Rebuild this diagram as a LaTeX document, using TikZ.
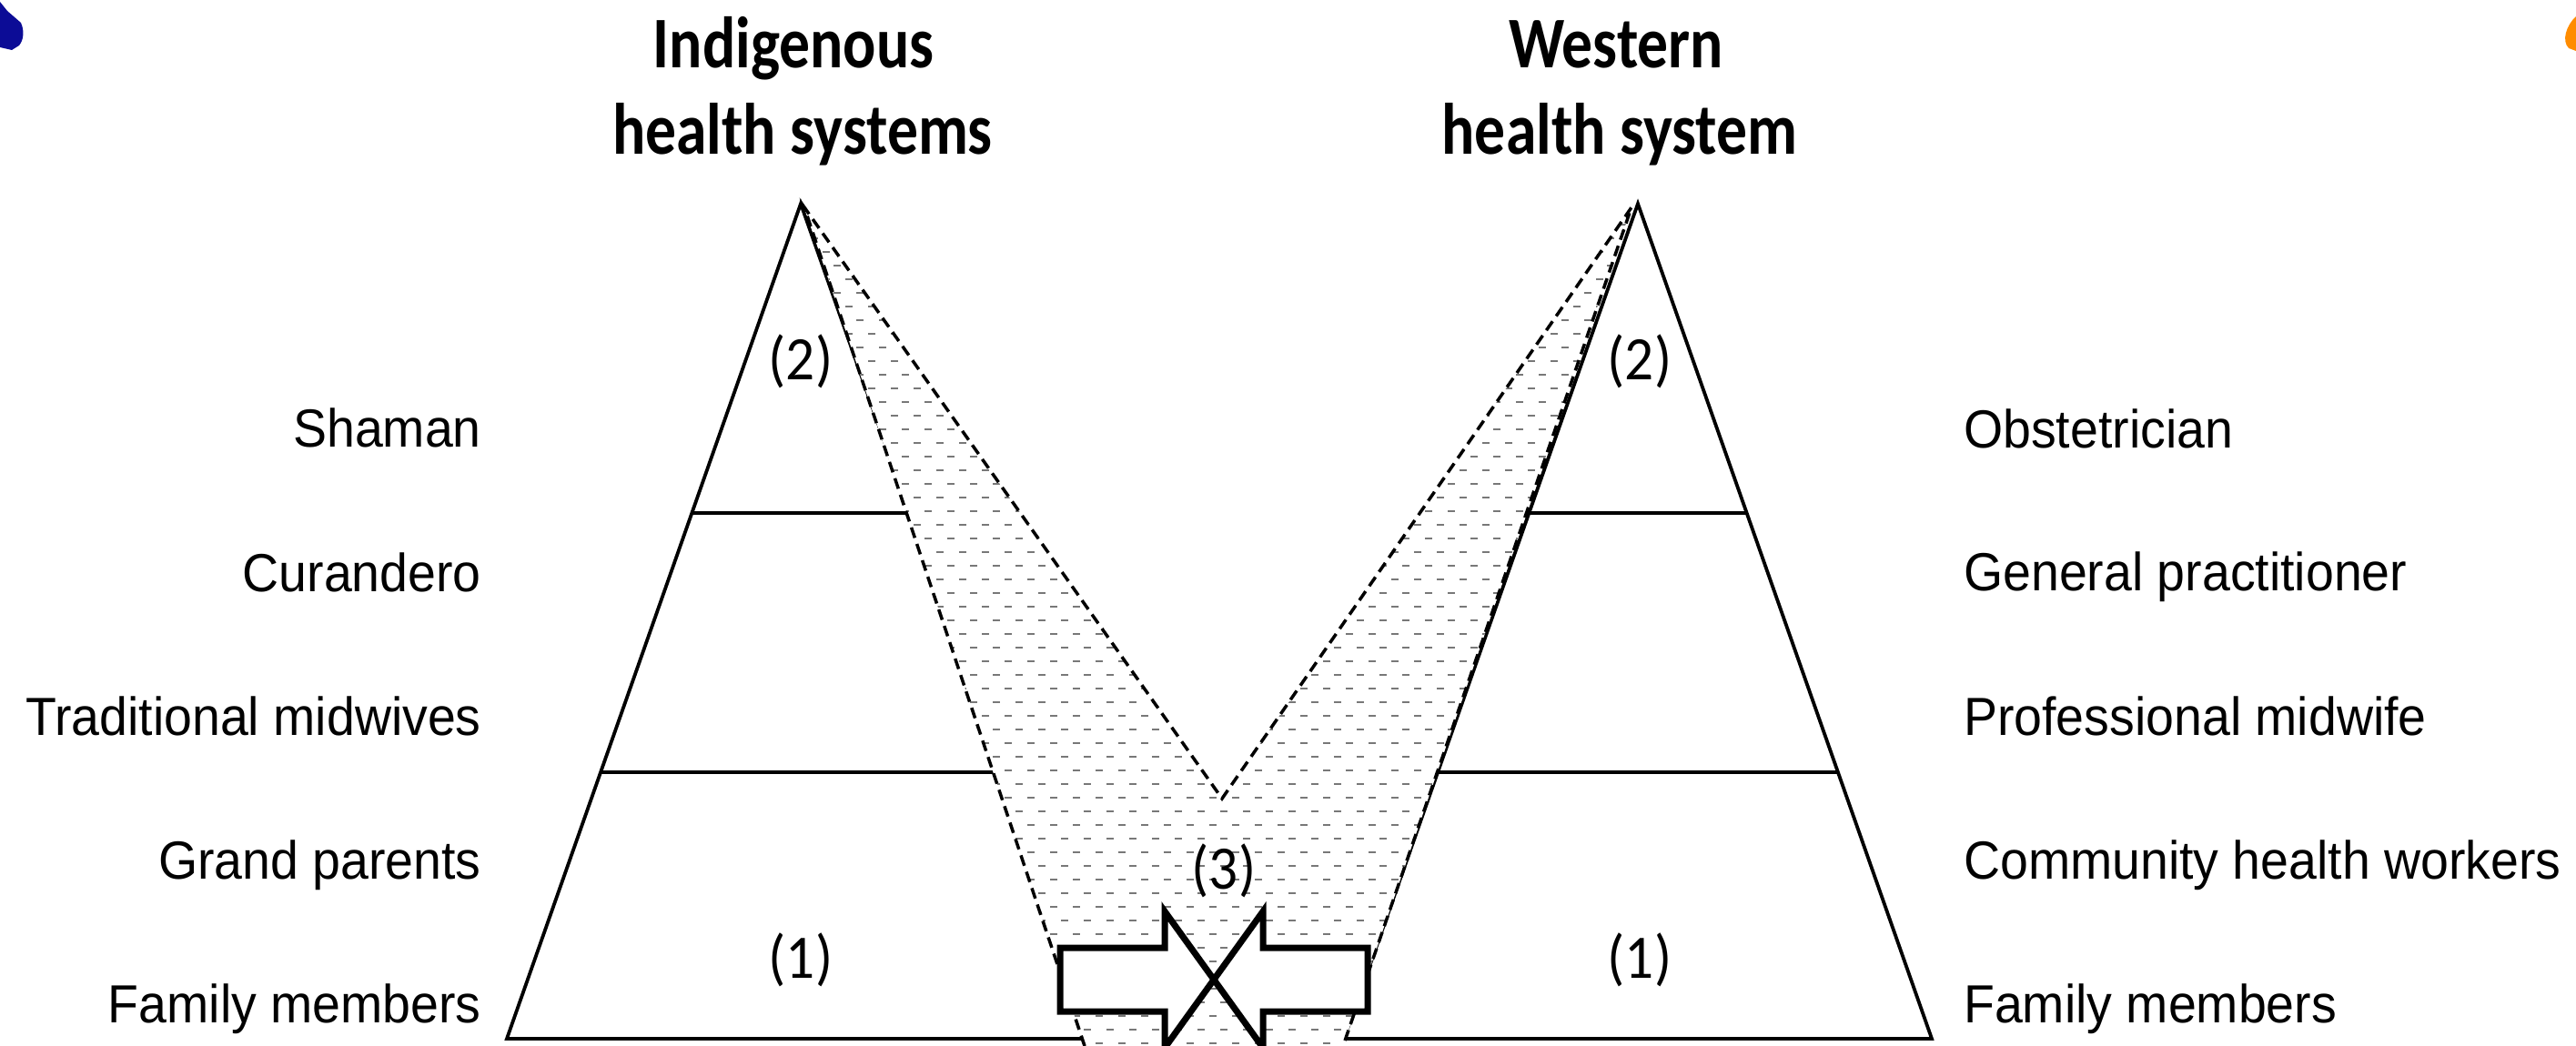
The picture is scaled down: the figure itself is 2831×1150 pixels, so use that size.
\documentclass[tikz,border=0pt]{standalone}
\usepackage{fontspec}
\newfontfamily\lblfont[FakeStretch=0.94]{Liberation Sans}
\newfontfamily\numfont[FakeStretch=0.93]{Carlito}
\newfontfamily\ttlfont[FakeStretch=0.845]{Carlito}
\definecolor{blobblue}{RGB}{12,12,150}
\definecolor{bloborange}{RGB}{255,140,0}
\definecolor{dashgray}{RGB}{120,120,120}
\tikzset{
  lbl/.style={inner sep=0pt, font=\lblfont\fontsize{59pt}{63pt}\selectfont},
  lblL/.style={lbl, anchor=base east},
  lblR/.style={lbl, anchor=base west},
  ttl/.style={inner sep=0pt, anchor=base, font=\ttlfont\bfseries\fontsize{80pt}{84pt}\selectfont},
  num/.style={inner sep=0pt, font=\numfont\fontsize{68pt}{72pt}\selectfont},
  pyr/.style={line width=3.8pt, line join=miter},
  level/.style={line width=3.8pt},
  bandedge/.style={line width=3.5pt, dash pattern=on 12pt off 7pt, line join=miter},
  fillrow/.style={dashgray, line width=2.8pt, dash pattern=on 8pt off 17pt},
  blockarrow/.style={line width=7pt, fill=white, line join=miter, miter limit=10}
}
\begin{document}
\begin{tikzpicture}[x=1pt, y=-1pt]
\useasboundingbox (0,0) rectangle (2831,1150);
% corner fragments
\fill[blobblue] (0,2) -- (8,12) -- (23,25) .. controls (27,34) and (26,44) .. (21,50) -- (13,55) -- (0,52) -- cycle;
\fill[bloborange] (2831,18) .. controls (2820,28) and (2815,45) .. (2823,53) -- (2831,56) -- cycle;

% pyramids
\coordinate (LT) at (880,224);
\coordinate (LBL) at (557,1142);
\coordinate (LBR) at (1203,1142);
\coordinate (RT) at (1800,224);
\coordinate (RBL) at (1477,1142);
\coordinate (RBR) at (2123,1142);
\draw[pyr] (LBL) -- (LT) -- (LBR) -- cycle;
\draw[pyr] (RBL) -- (RT) -- (RBR) -- cycle;
\draw[level] (760.4,564) -- (999.6,564);
\draw[level] (660.1,849) -- (1099.9,849);
\draw[level] (1680.4,564) -- (1919.6,564);
\draw[level] (1580.1,849) -- (2019.9,849);

% shaded band
\coordinate (A1) at (884,228);
\coordinate (V) at (1343,878);
\coordinate (A2) at (1793,228);
\coordinate (Rb) at (1476,1150);
\coordinate (Lb) at (1192,1150);
\begin{scope}
\clip (A1) -- (V) -- (A2) -- (Rb) -- (Lb) -- cycle;
\fill[white] (860,200) rectangle (1820,1160);
\foreach \i in {0,...,62} {
  \pgfmathsetmacro\yy{232+15*\i}
  \pgfmathsetmacro\ph{mod(\i,2)*12}
  \draw[fillrow, dash phase=\ph pt] (866,\yy) -- (1820,\yy);
}
\end{scope}
\draw[bandedge] (Lb) -- (A1) -- (V) -- (A2) -- (Rb);

% block arrows
\draw[blockarrow] (1165,1042) -- (1280,1042) -- (1280,1002) -- (1334,1077) -- (1280,1152) -- (1280,1112) -- (1165,1112) -- cycle;
\draw[blockarrow] (1503,1042) -- (1388,1042) -- (1388,1002) -- (1334,1077) -- (1388,1152) -- (1388,1112) -- (1503,1112) -- cycle;

% titles
\node[ttl] (t1a) at (872,75) {Indigenous};
\node[ttl] (t1b) at (882,170) {health systems};
\node[ttl] (t2a) at (1776,75) {Western};
\node[ttl] (t2b) at (1780,170) {health system};

% numbers
\node[num] (n2l) at (880,397) {(2)};
\node[num] (n2r) at (1802,397) {(2)};
\node[num] (n1l) at (880,1055) {(1)};
\node[num] (n1r) at (1802,1055) {(1)};
\node[num] (n3) at (1345,957) {(3)};

% left labels
\node[lblL] (l1) at (529,491) {Shaman};
\node[lblL] (l2) at (529,650) {Curandero};
\node[lblL] (l3) at (529,808) {Traditional midwives};
\node[lblL] (l4) at (529,966) {Grand parents};
\node[lblL] (l5) at (529,1124) {Family members};

% right labels
\node[lblR] (r1) at (2158,492) {Obstetrician};
\node[lblR] (r2) at (2158,649) {General practitioner};
\node[lblR] (r3) at (2158,808) {Professional midwife};
\node[lblR] (r4) at (2158,966) {Community health workers};
\node[lblR] (r5) at (2158,1124) {Family members};
\end{tikzpicture}
\end{document}
